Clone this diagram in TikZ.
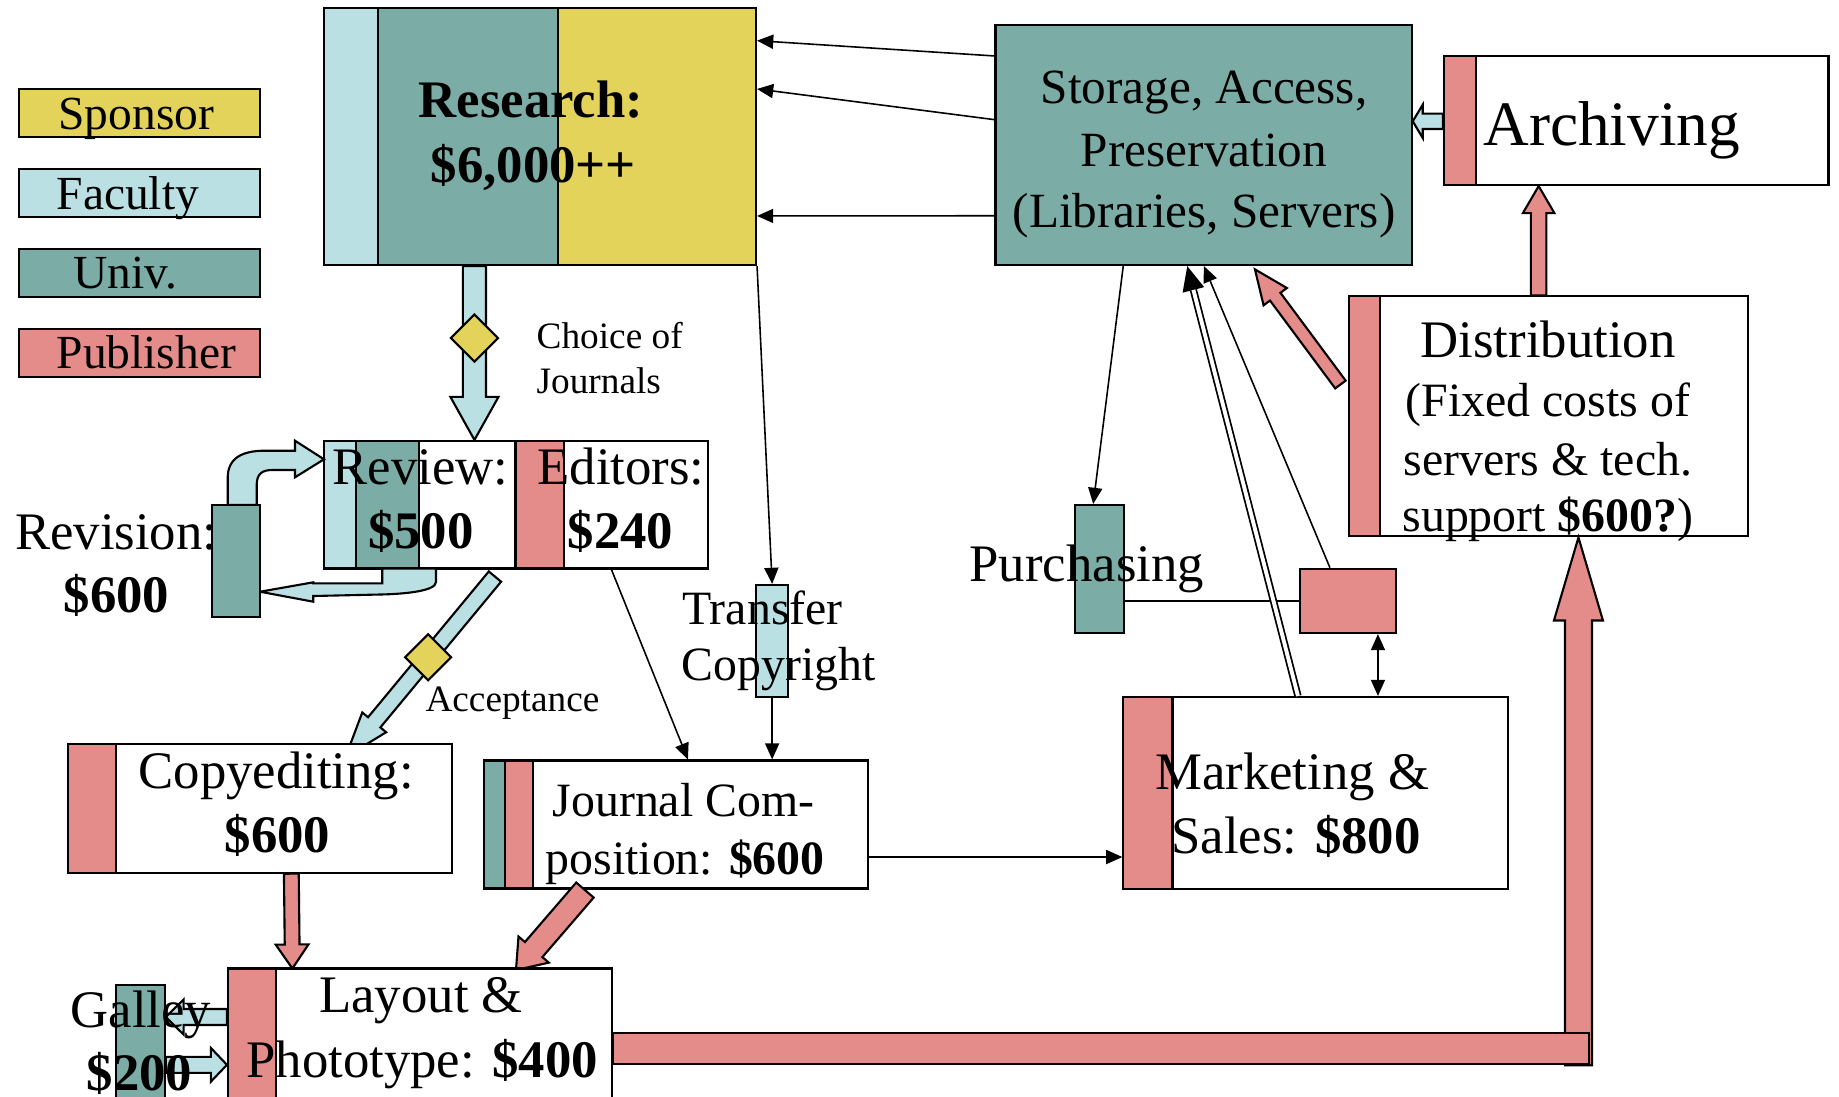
\documentclass[tikz,border=0pt]{standalone}
\usepackage{fontspec}
\setmainfont{Liberation Serif}
\usetikzlibrary{calc,fit,arrows.meta,shapes.geometric}

\definecolor{sponsor}{HTML}{E3D35B}
\definecolor{faculty}{HTML}{BAE0E3}
\definecolor{univ}{HTML}{7BACA6}
\definecolor{publisher}{HTML}{E48C8A}

\newcommand\szLegend{\fontsize{13.5}{16}\selectfont}
\newcommand\szMain{\fontsize{15}{18}\selectfont}
\newcommand\szStore{\fontsize{14}{17}\selectfont}
\newcommand\szMid{\fontsize{13.6}{16}\selectfont}
\newcommand\szSmall{\fontsize{10.6}{13}\selectfont}
\newcommand\szBig{\fontsize{18}{21}\selectfont}

% block arrow: style, tail, tip, shaft half width, head half width, head length
\newcommand\fatarrow[6]{%
  \coordinate (fahead) at ($(#3)!#6!(#2)$);
  \draw[#1] ($(#2)!#4!90:(#3)$) -- ($(fahead)!#4!-90:(#2)$)
    -- ($(fahead)!#5!-90:(#2)$) -- (#3) -- ($(fahead)!#5!90:(#2)$)
    -- ($(fahead)!#4!90:(#2)$) -- ($(#2)!#4!-90:(#3)$) -- cycle;
}

\tikzset{
  box/.style={draw, line width=0.6pt, inner sep=0pt, fill=white},
  strip/.style={draw, line width=0.6pt},
  conn/.style={line width=0.45pt, -{Triangle[length=4.6pt,width=4pt]}},
  fatF/.style={draw, line width=0.6pt, fill=faculty, line join=miter},
  fatP/.style={draw, line width=0.6pt, fill=publisher, line join=miter},
  gate/.style={draw, line width=0.6pt, fill=sponsor, diamond, aspect=1, inner sep=0pt, minimum size=0.48cm},
  txt/.style={inner sep=0pt, anchor=base west, font=\szMain},
  ctxt/.style={inner sep=0pt, anchor=base, font=\szMain},
}

\begin{document}
\begin{tikzpicture}[x=0.01cm, y=-0.01cm]
\useasboundingbox (0,0) rectangle (1839,1096);
\clip (0,0) rectangle (1839,1096);

% ---------- legend ----------
\node[box, fill=sponsor,   fit={(19.4,89) (260,137)}]  (lgS) {};
\node[box, fill=faculty,   fit={(19.4,169) (260,217)}] (lgF) {};
\node[box, fill=univ,      fit={(19.4,249) (260,297)}] (lgU) {};
\node[box, fill=publisher, fit={(19.4,329) (260,377)}] (lgP) {};
\node[txt, font=\szLegend] (lgS-t) at (57.7,129.3) {Sponsor};
\node[txt, font=\szLegend] (lgF-t) at (56,209) {Faculty};
\node[txt, font=\szLegend] (lgU-t) at (73,288.3) {Univ.};
\node[txt, font=\szLegend] (lgP-t) at (56,368.3) {Publisher};

% ---------- boxes ----------
\node[box, fit={(324,8.3) (756,265)}] (research) {};
\draw[strip, fill=faculty] (324,8.3) rectangle (378,265);
\draw[strip, fill=univ] (378,8.3) rectangle (558,265);
\draw[strip, fill=sponsor] (558,8.3) rectangle (756,265);

\node[box, fill=univ, fit={(995.5,25) (1411.7,265)}] (storage) {};

\node[box, fit={(1444,56.4) (1828.5,185)}] (archiving) {};
\draw[strip, fill=publisher] (1444,56.4) rectangle (1476,185);

\node[box, fit={(1348.7,296.4) (1747.7,536.4)}] (distribution) {};
\draw[strip, fill=publisher] (1348.7,296.4) rectangle (1380,536.4);

\node[box, fit={(324,441) (707.8,568.5)}] (review) {};
\draw[strip, fill=faculty] (324,441) rectangle (356,568.5);
\draw[strip, fill=univ] (356,441) rectangle (419.3,568.5);
\draw[strip, fill=publisher] (515.5,441) rectangle (563.7,568.5);

\node[box, fill=faculty, fit={(756,585) (788.3,696.7)}] (transfer) {};
\node[box, fill=univ, fit={(1075.4,505) (1124,633)}] (purchasing) {};
\node[box, fill=publisher, fit={(1300,568.8) (1395.8,633)}] (salesdesk) {};

\node[box, fit={(1123.4,697) (1507.8,889)}] (marketing) {};
\draw[strip, fill=publisher] (1123.4,697) rectangle (1172.5,889);

\node[box, fit={(484,760.5) (868,888.5)}] (journal) {};
\draw[strip, fill=univ] (484,760.5) rectangle (505,888.5);
\draw[strip, fill=publisher] (505,760.5) rectangle (532.7,888.5);

% ---------- revision loop ----------
\draw[fatF] (227.7,505) -- (227.7,478) .. controls (227.7,458) and (242,450.7) .. (265,450.7)
  -- (295,450.7) -- (295,440.7) -- (324,459.3) -- (295,477.3) -- (295,470) -- (272,470)
  .. controls (262,470) and (256.7,474) .. (256.7,485) -- (256.7,505) -- cycle;
\draw[fatF] (436,568.5) -- (436,582) .. controls (436,591) and (405,594) .. (380,594.5)
  -- (313.3,596) -- (313.3,601.7) -- (260,591.7) -- (313.3,582.3) -- (313.3,583.3)
  -- (382.3,583.3) -- (382.3,568.5) -- cycle;
\node[box, fill=univ, fit={(211.7,505) (260,616.7)}] (revision) {};

% ---------- research to review ----------
\coordinate (resA) at ($(research.south west)+(151.5,0)$);
\coordinate (resB) at (resA |- review.north);
\fatarrow{fatF}{resA}{resB}{0.115cm}{0.24cm}{0.43cm}
\node[gate] (choice) at ($(resA)+(0,72)$) {};

% ---------- acceptance ----------
\coordinate (accA) at ($(review.south west)+(172,7)$);
\coordinate (accB) at (345.5,757);
\fatarrow{fatF}{accA}{accB}{0.08cm}{0.155cm}{0.45cm}
\node[gate, minimum size=0.47cm] (accept) at ($(accA)!0.447!(accB)$) {};

\node[box, fit={(67.7,744.4) (451.8,872.6)}] (copyedit) {};
\draw[strip, fill=publisher] (67.7,744.4) rectangle (116,872.6);

% ---------- storage links ----------
\draw[conn] ($(storage.north west)+(0,32)$) -- ($(research.north east)+(0,33.4)$);
\draw[conn] ($(storage.north west)+(0,95.7)$) -- ($(research.north east)+(0,81.7)$);
\draw[conn] ($(storage.north west)+(0,191.8)$) -- ($(research.north east)+(0,208.7)$);
\draw[conn] (research.south east) -- (transfer.north);
\draw[conn] (transfer.south) -- (transfer.south |- journal.north);
\draw[conn] ($(review.south west)+(288.5,0)$) -- ($(journal.north west)+(205,0)$);
\coordinate (jm) at ($(journal.east)+(0,32.5)$);
\draw[conn] (jm) -- (jm -| marketing.west);
\draw[conn] ($(storage.south west)+(128.8,0)$) -- ($(purchasing.north)+(-6.5,0)$);
\draw[line width=0.45pt] (salesdesk.west -| purchasing.east) -- (salesdesk.west);
\coordinate (sdB) at ($(salesdesk.south west)+(79,0)$);
\draw[line width=0.45pt, {Triangle[length=4.6pt,width=4pt]}-{Triangle[length=4.6pt,width=4pt]}] (sdB) -- (sdB |- marketing.north);
\draw[conn] ($(salesdesk.north west)+(31,0)$) -- ($(storage.south west)+(209.5,0)$);
\coordinate (mkA) at ($(marketing.north west)+(175.6,0)$);
\coordinate (mkB) at ($(storage.south west)+(192.8,0)$);
\draw[line width=0.5pt, -{Triangle[length=7pt,width=6.2pt]}] (mkA) -- (mkB);
\draw[line width=0.5pt, double, double distance=1.1pt] (mkA) -- ($(mkB)!7pt!(mkA)$);

% ---------- publisher flows ----------
\coordinate (dsA) at ($(distribution.west)+(-7.2,-31.9)$);
\coordinate (dsB) at ($(storage.south west)+(260.5,3.3)$);
\fatarrow{fatP}{dsA}{dsB}{0.065cm}{0.145cm}{0.34cm}
\coordinate (daA) at ($(distribution.north west)+(191,0)$);
\coordinate (daB) at (daA |- archiving.south);
\fatarrow{fatP}{daA}{daB}{0.0775cm}{0.1575cm}{0.27cm}
\coordinate (asA) at ($(archiving.west)+(0,0.6)$);
\coordinate (asB) at (asA -| storage.east);
\fatarrow{fatF}{asA}{asB}{0.077cm}{0.167cm}{0.1cm}

\coordinate (clA) at ($(copyedit.south west)+(224.7,0)$);
\coordinate (clB) at (292.4,968.5);
\fatarrow{fatP}{clA}{clB}{0.074cm}{0.164cm}{0.24cm}
\coordinate (jlA) at ($(journal.south west)+(102,0.5)$);
\coordinate (jlB) at (516,970);
\fatarrow{fatP}{jlA}{jlB}{0.115cm}{0.2cm}{0.27cm}

\node[box, fit={(228,968.5) (612.3,1110)}] (layout) {};
\draw[strip, fill=publisher] (228,968.5) rectangle (276,1110);

\coordinate (ldA) at ($(distribution.south west)+(230.8,527.9)$);
\coordinate (ldB) at (ldA |- distribution.south);
\fatarrow{fatP}{ldA}{ldB}{0.135cm}{0.245cm}{0.83cm}
\draw[fatP] (layout.east |- 0,1032.7) rectangle (1588.6,1064.3);

% ---------- galley ----------
\node[box, fill=univ, fit={(116,984.6) (164.8,1110)}] (galley) {};
\coordinate (gaA) at (layout.west |- 0,1017);
\coordinate (gaB) at (galley.east |- 0,1017);
\fatarrow{fatF}{gaA}{gaB}{0.08cm}{0.175cm}{0.177cm}
\coordinate (gbA) at (galley.east |- 0,1064.8);
\coordinate (gbB) at (layout.west |- 0,1064.8);
\fatarrow{fatF}{gbA}{gbB}{0.08cm}{0.168cm}{0.16cm}

% ---------- labels ----------
\node[txt] (research-t1) at (418,117) {\textbf{Research:}};
\node[txt] (research-t2) at (430,182) {\textbf{\$6,000++}};
\node[ctxt, font=\szStore] (storage-t1) at (1204,103.6) {Storage, Access,};
\node[ctxt, font=\szStore] (storage-t2) at (1204,166) {Preservation};
\node[ctxt, font=\szStore] (storage-t3) at (1204,227) {(Libraries, Servers)};
\node[txt, font=\szBig] (archiving-t) at (1482.6,145) {Archiving};
\node[ctxt] (distribution-t1) at (1548,357) {Distribution};
\node[ctxt, font=\szMid] (distribution-t2) at (1548,416) {(Fixed costs of};
\node[ctxt, font=\szMid] (distribution-t3) at (1548,475) {servers \& tech.};
\node[ctxt, font=\szMid] (distribution-t4) at (1548,531) {support \textbf{\$600?})};
\node[txt] (review-t1) at (331.8,484.7) {Review:};
\node[txt] (review-t2) at (367.4,548.4) {\textbf{\$500}};
\node[txt] (editors-t1) at (536.7,484.7) {Editors:};
\node[txt] (editors-t2) at (567,548.4) {\textbf{\$240}};
\node[txt] (revision-t1) at (14.4,549) {Revision:};
\node[txt] (revision-t2) at (63,612.7) {\textbf{\$600}};
\node[txt, font=\szSmall] (choice-t1) at (536,348) {Choice of};
\node[txt, font=\szSmall] (choice-t2) at (536,393) {Journals};
\node[txt, font=\szSmall] (accept-t) at (424.8,711) {Acceptance};
\node[txt, font=\szMid] (transfer-t1) at (681.7,624.3) {Transfer};
\node[txt, font=\szMid] (transfer-t2) at (681,680) {Copyright};
\node[txt] (purchasing-t) at (968.9,581) {Purchasing};
\node[txt] (marketing-t1) at (1154.5,789) {Marketing \&};
\node[txt] (marketing-t2) at (1170.7,853) {Sales: \textbf{\$800}};
\node[txt] (copyedit-t1) at (137.8,788.5) {Copyediting:};
\node[txt] (copyedit-t2) at (224,852.3) {\textbf{\$600}};
\node[txt, font=\szMid] (journal-t1) at (552,816.6) {Journal Com-};
\node[txt, font=\szMid] (journal-t2) at (545,874.7) {position: \textbf{\$600}};
\node[txt] (layout-t1) at (318.6,1012.7) {Layout \&};
\node[txt] (layout-t2) at (245.7,1077) {Phototype: \textbf{\$400}};
\node[txt] (galley-t1) at (70,1027.8) {Galley};
\node[txt] (galley-t2) at (86,1090) {\textbf{\$200}};
\end{tikzpicture}
\end{document}
